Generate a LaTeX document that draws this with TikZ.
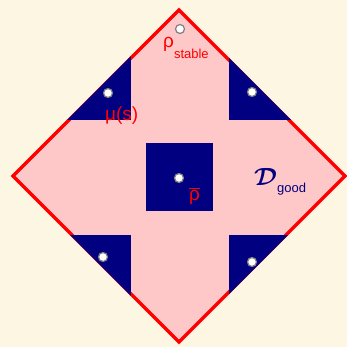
\documentclass[tikz,border=0pt]{standalone}
\usepackage{fontspec}
\setmainfont{Liberation Sans}
\usetikzlibrary{positioning}
\definecolor{cream}{HTML}{FDF6E3}
\definecolor{regionpink}{HTML}{FFC8C8}
\definecolor{deepnavy}{HTML}{000080}
\newcommand{\lowsub}[2][11pt]{\raisebox{-#1}{\fontsize{13}{13}\selectfont #2}}

\begin{document}
\begin{tikzpicture}[x=1pt, y=-1pt,
    sample/.style={circle, draw=gray, fill=white, line width=1.2pt, inner sep=0pt, minimum size=9pt},
    lbl/.style={inner sep=0pt, anchor=base west, text=red, font=\fontsize{19}{19}\selectfont},
]
\fill[cream] (0,0) rectangle (347,347);
\useasboundingbox (0,0) rectangle (347,347);

% the diamond
\filldraw[fill=regionpink, draw=red, line width=3.2pt] (179,10) -- (345,176) -- (179,342) -- (13,176) -- cycle;

% corner blocks, cut by the diamond
\begin{scope}
  \clip (179,8) -- (347,176) -- (179,344) -- (11,176) -- cycle;
  \fill[deepnavy] (0,0) rectangle (131,120);
  \fill[deepnavy] (229,0) rectangle (347,120);
  \fill[deepnavy] (0,235) rectangle (131,347);
  \fill[deepnavy] (229,235) rectangle (347,347);
\end{scope}
\fill[deepnavy] (146,143) rectangle (213,211);

% sample points
\node[sample] (ptop) at (180,29) {};
\node[sample] (ptl) at (108,93) {};
\node[sample] (ptr) at (252,92) {};
\node[sample] (pmid) at (179,178) {};
\node[sample] (pbl) at (103,257) {};
\node[sample] (pbr) at (252,262) {};

% labels
\node[lbl] (rhostable) at (163,48) {ρ\lowsub{stable}};
\node[lbl] (mus) at (105,121) {μ(s)};
\node[lbl] (rhobar) at (189,200) {$\overline{\mbox{ρ}}$};
\node[lbl, text=deepnavy] (dgood) at (254,185) {{\fontsize{32}{32}\selectfont\boldmath$\mathcal{D}$}\lowsub[7pt]{good}};
\end{tikzpicture}
\end{document}
